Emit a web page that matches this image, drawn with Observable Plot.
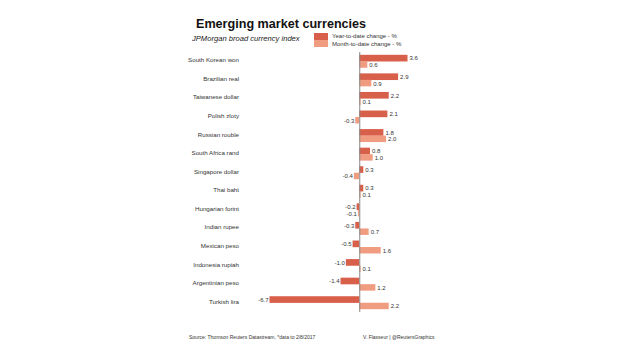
<!DOCTYPE html>
<html>
<head>
<meta charset="utf-8">
<script src="https://cdn.jsdelivr.net/npm/d3@7"></script>
<script src="https://cdn.jsdelivr.net/npm/@observablehq/plot@0.6"></script>
<style>
  html, body { margin: 0; padding: 0; background: #fff; }
  #wrap { position: relative; width: 620px; height: 355px; font-family: "Liberation Sans", Arial, sans-serif; overflow: hidden; }
  #wrap svg { position: absolute; left: 0; top: 0; }
  .t { position: absolute; white-space: nowrap; line-height: 1; }
  #title { left: 196px; top: 18px; font-size: 12.6px; font-weight: bold; color: #111; }
  #subtitle { left: 192px; top: 35px; font-size: 7.6px; font-style: italic; color: #222; }
  .sw { position: absolute; left: 314px; width: 14px; height: 7px; }
  .lg { position: absolute; left: 332px; font-size: 6px; color: #333; line-height: 1; white-space: nowrap; }
  .foot { position: absolute; top: 334px; font-size: 5px; color: #333; white-space: nowrap; }
</style>
</head>
<body>
<div id="wrap">
  <div class="t" id="title">Emerging market currencies</div>
  <div class="t" id="subtitle">JPMorgan broad currency index</div>
  <div class="sw" id="sw1" style="top:33px"></div>
  <div class="sw" id="sw2" style="top:40px"></div>
  <div class="lg" id="lg1" style="top:33px">Year-to-date change - %</div>
  <div class="lg" id="lg2" style="top:40.5px">Month-to-date change - %</div>
  <div class="foot" style="left:189px">Source: Thomson Reuters Datastream, *data to 2/8/2017</div>
  <div class="foot" style="left:363px">V. Flasseur | @ReutersGraphics</div>
</div>
<script>
const currencies = ["South Korean won", "Brazilian real", "Taiwanese dollar", "Polish zloty", "Russian rouble", "South Africa rand", "Singapore dollar", "Thai baht", "Hungarian forint", "Indian rupee", "Mexican peso", "Indonesia rupiah", "Argentinian peso", "Turkish lira"];
const ytd = [3.6, 2.9, 2.2, 2.1, 1.8, 0.8, 0.3, 0.3, -0.2, -0.3, -0.5, -1.0, -1.4, -6.7];
const mtd = [0.6, 0.9, 0.1, -0.3, 2.0, 1.0, -0.4, 0.1, -0.1, 0.7, 1.6, 0.1, 1.2, 2.2];
const seriesNames = ["Year-to-date change - %", "Month-to-date change - %"];
const colors = ["#d8604a", "#f09c81"];

document.getElementById("sw1").style.background = colors[0];
document.getElementById("sw2").style.background = colors[1];

const rowsY = currencies.map((c, i) => ({c, v: ytd[i]}));
const rowsM = currencies.map((c, i) => ({c, v: mtd[i]}));
const fmt = v => v.toFixed(1);
const txt = {fontSize: 6, fill: "#333"};

const chart = Plot.plot({
  width: 620,
  height: 355,
  marginTop: 52,
  marginBottom: 43,
  marginLeft: 269.5,
  marginRight: 212.5,
  style: {fontFamily: "Liberation Sans, Arial, sans-serif", background: "transparent"},
  x: {domain: [-6.7, 3.6], axis: null},
  y: {domain: currencies, padding: 0, round: false, label: null},
  marks: [
    Plot.axisY({tickSize: 0, tickPadding: 31, fontSize: 6.2, fill: "#333", dy: -1.5, label: null}),
    Plot.barX(rowsY, {x: "v", y: "c", fill: colors[0], insetTop: 2.8, insetBottom: 9.1}),
    Plot.barX(rowsM, {x: "v", y: "c", fill: colors[1], insetTop: 9.3, insetBottom: 2.8}),
    Plot.ruleX([0], {stroke: "#888", strokeWidth: 1}),
    Plot.text(rowsY.filter(d => d.v >= 0), {x: "v", y: "c", text: d => fmt(d.v), textAnchor: "start", dx: 1.5, dy: -3.3, ...txt}),
    Plot.text(rowsY.filter(d => d.v < 0), {x: "v", y: "c", text: d => fmt(d.v), textAnchor: "end", dx: -1.5, dy: -3.3, ...txt}),
    Plot.text(rowsM.filter(d => d.v >= 0), {x: "v", y: "c", text: d => fmt(d.v), textAnchor: "start", dx: 1.5, dy: 3.3, ...txt}),
    Plot.text(rowsM.filter(d => d.v < 0), {x: "v", y: "c", text: d => fmt(d.v), textAnchor: "end", dx: -1.5, dy: 3.3, ...txt})
  ]
});
document.getElementById("wrap").prepend(chart);
</script>
</body>
</html>
